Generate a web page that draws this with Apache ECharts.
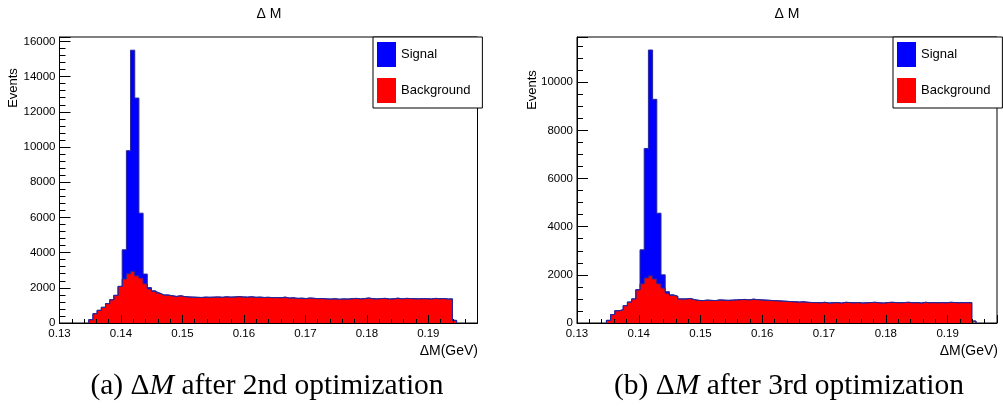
<!DOCTYPE html>
<html>
<head>
<meta charset="utf-8">
<script src="https://cdn.jsdelivr.net/npm/echarts@6/dist/echarts.min.js"></script>
<style>
html, body { margin: 0; padding: 0; background: #fff; }
#main { width: 1003px; height: 411px; }
</style>
</head>
<body>
<div id="main"></div>
<script>
// histogram binning: 100 bins over 0.13 - 0.198 GeV, first filled bin is #7
var xMin = 0.13, xMax = 0.198, binWidth = 0.00068, firstBin = 7;
var peakFirstBin = 15;

var xTickLabels = ['0.13', '0.14', '0.15', '0.16', '0.17', '0.18', '0.19'];

// (a) after 2nd optimization
var bgA = [190, 530, 720, 890, 1100, 1320, 1570, 2080, 2500, 2800, 2930, 2680, 2550, 2230, 1930, 1800, 1700, 1590, 1590, 1550, 1510, 1550,
  1500, 1480, 1470, 1460, 1450, 1470, 1460,
  1470, 1480, 1460, 1490, 1470, 1480, 1500, 1480, 1470, 1490,
  1460, 1470, 1450, 1460, 1440, 1450, 1430, 1470, 1420, 1430,
  1400, 1410, 1390, 1420, 1400, 1380, 1390, 1370, 1360, 1380,
  1350, 1370, 1360, 1380, 1400, 1370, 1390, 1420, 1380, 1370,
  1390, 1400, 1360, 1380, 1410, 1370, 1400, 1390, 1380, 1370,
  1390, 1380, 1370, 1400, 1380, 1390, 1360, 1370,
  150];
var sigA = [1660, 6990, 12570, 10100, 3690, 550, 80, 30];

// (b) after 3rd optimization
var bgB = [110, 350, 510, 550, 720, 870, 1000, 1380, 1630, 1870, 1960, 1830, 1630, 1450, 1240, 1150, 1110, 1000, 1000, 1020, 970, 940,
  930, 950, 940, 930, 960, 950, 940,
  950, 960, 970, 980, 960, 990, 970, 960, 950, 940,
  930, 920, 910, 900, 890, 880, 870, 880, 860, 850,
  850, 840, 860, 830, 840, 850, 830, 860, 850, 840,
  850, 830, 840, 850, 860, 840, 830, 850, 860, 850,
  840, 850, 860, 840, 850, 830, 860, 840, 850, 840,
  850, 840, 860, 850, 840, 850, 840, 850,
  80];
var sigB = [1410, 5380, 9380, 7460, 2930, 550, 60, 20];

var yMaxA = 16250, yMaxB = 11880;

// stacked signal on top of background
function stackPeak(bg, sig) {
  var t = bg.slice();
  sig.forEach(function (s, i) { t[peakFirstBin - firstBin + i] += s; });
  return t;
}

// step outline points at bin edges
function histPoints(values) {
  var pts = [[xMin + firstBin * binWidth, 0]];
  values.forEach(function (v, i) { pts.push([xMin + (firstBin + i) * binWidth, v]); });
  pts.push([xMin + (firstBin + values.length) * binWidth, 0]);
  return pts;
}

function histSeries(name, idx, values, fill) {
  return {
    name: name, type: 'line', xAxisIndex: idx, yAxisIndex: idx,
    data: histPoints(values), step: 'end',
    showSymbol: false, symbol: 'none', silent: true,
    itemStyle: { color: fill },
    lineStyle: { color: '#26269a', width: 1 },
    areaStyle: { color: fill, opacity: 1 }
  };
}

var font = 'Liberation Sans, Arial, sans-serif';

function xAxisFor(idx) {
  return {
    type: 'value', gridIndex: idx, min: xMin, max: xMax, interval: 0.01, z: 10,
    axisLine: { lineStyle: { color: '#000', width: 1 } },
    axisTick: { inside: true, length: 8, lineStyle: { color: '#000' } },
    minorTick: { show: true, splitNumber: 5, length: 4, lineStyle: { color: '#000' } },
    axisLabel: {
      color: '#000', fontSize: 11.5, fontFamily: font, margin: 5, showMaxLabel: false,
      formatter: function (v) { return xTickLabels[Math.round((v - xMin) / 0.01)] || ''; }
    },
    splitLine: { show: false }
  };
}

function yAxisFor(idx, max, minorSplit) {
  return {
    type: 'value', gridIndex: idx, min: 0, max: max, interval: 2000, z: 10,
    axisLine: { lineStyle: { color: '#000', width: 1 } },
    axisTick: { inside: true, length: 11, lineStyle: { color: '#000' } },
    minorTick: { show: true, splitNumber: minorSplit, length: 6, lineStyle: { color: '#000' } },
    axisLabel: {
      color: '#000', fontSize: 11.5, fontFamily: font, margin: 4, showMaxLabel: false,
      formatter: function (v) { return String(v); }
    },
    splitLine: { show: false }
  };
}

function legendFor(left) {
  return {
    left: left, top: 37, orient: 'vertical', icon: 'rect',
    itemWidth: 19, itemHeight: 25, itemGap: 11,
    padding: [5, 12, 5, 4],
    borderColor: '#000', borderWidth: 1, backgroundColor: '#fff',
    textStyle: { color: '#000', fontSize: 13, fontFamily: font },
    data: ['Signal', 'Background']
  };
}

function label(text, x, y, size, extra) {
  return {
    type: 'text', x: x, y: y, z: 20,
    style: Object.assign({ text: text, fill: '#000', font: size + 'px ' + font, align: 'center', verticalAlign: 'middle' }, extra || {})
  };
}

function caption(prefix, suffix, x) {
  var serif = 'Liberation Serif, Times New Roman, serif';
  return {
    type: 'text', x: x, y: 386, z: 20,
    style: {
      text: '{n|' + prefix + 'Δ}{i|M}{n|' + suffix + '}',
      align: 'center', verticalAlign: 'middle', fill: '#000',
      rich: {
        n: { fontFamily: serif, fontSize: 29.5, fill: '#000' },
        i: { fontFamily: serif, fontSize: 29.5, fontStyle: 'italic', fill: '#000' }
      }
    }
  };
}

var myChart = echarts.init(document.getElementById('main'));

var option = {
  animation: false,
  backgroundColor: '#fff',
  grid: [
    { left: 59.5, top: 37, width: 418, height: 286, show: true, borderColor: '#000', borderWidth: 1, outerBoundsMode: 'none' },
    { left: 577, top: 37, width: 420, height: 286, show: true, borderColor: '#000', borderWidth: 1, outerBoundsMode: 'none' }
  ],
  xAxis: [xAxisFor(0), xAxisFor(1)],
  yAxis: [yAxisFor(0, yMaxA, 5), yAxisFor(1, yMaxB, 4)],
  legend: [legendFor(373), legendFor(893)],
  series: [
    histSeries('Signal', 0, stackPeak(bgA, sigA), '#0000ff'),
    histSeries('Background', 0, bgA, '#ff0000'),
    histSeries('Signal', 1, stackPeak(bgB, sigB), '#0000ff'),
    histSeries('Background', 1, bgB, '#ff0000')
  ],
  graphic: [
    label('Δ M', 269, 14, 14),
    label('Δ M', 787, 14, 14),
    label('Events', 13, 88, 13),
    label('Events', 532, 90, 13),
    label('ΔM(GeV)', 478, 351, 14, { align: 'right' }),
    label('ΔM(GeV)', 998, 351, 14, { align: 'right' }),
    caption('(a) ', ' after 2nd optimization', 267),
    caption('(b) ', ' after 3rd optimization', 789)
  ]
};
// y titles read bottom to top
option.graphic[2].rotation = Math.PI / 2;
option.graphic[3].rotation = Math.PI / 2;

myChart.setOption(option);
</script>
</body>
</html>
